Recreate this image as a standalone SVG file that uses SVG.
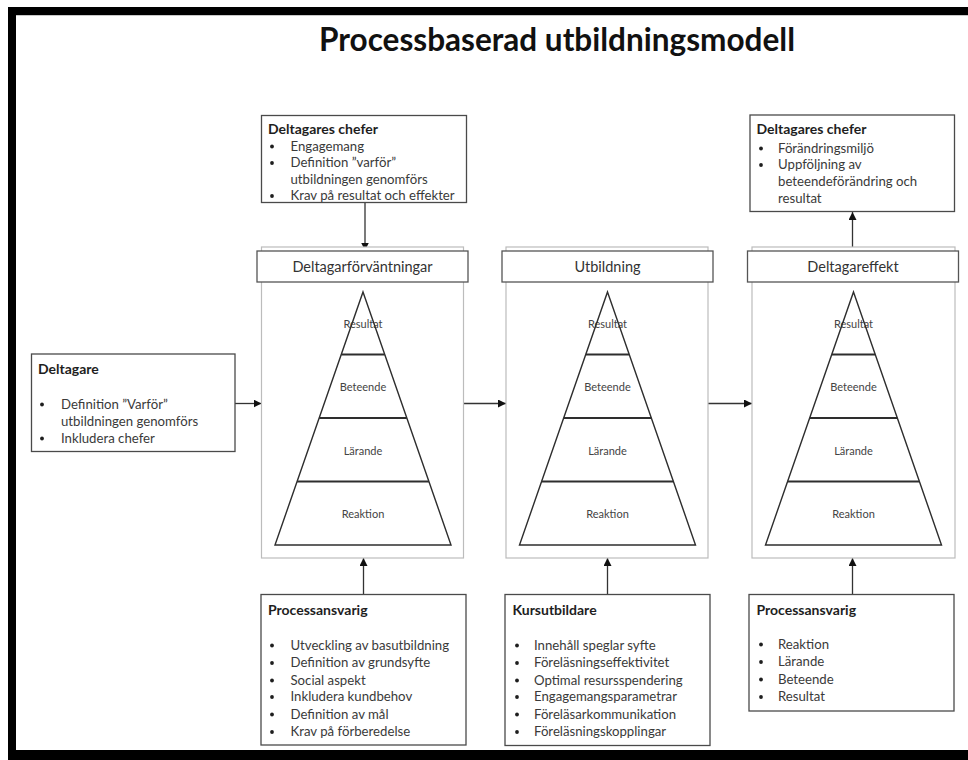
<svg xmlns="http://www.w3.org/2000/svg" width="968" height="760" viewBox="0 0 968 760">
  <defs>
    <style>
      .frame { fill: #000; }
      .box { fill: #fff; stroke: #4a4a4a; stroke-width: 1.3; }
      .stage { fill: #fff; stroke: #bcbcbc; stroke-width: 1.2; }
      .head { fill: #fff; stroke: #555; stroke-width: 1.3; }
      .pyr { fill: none; stroke: #2e2e2e; stroke-width: 1.4; }
      .tier { stroke: #2e2e2e; stroke-width: 1.8; }
      .edge { stroke: #333; stroke-width: 1.3; fill: none; }
      .title { font-family: Lato, "Liberation Sans", sans-serif; font-weight: 700; font-size: 32px; fill: #111; }
      .h { font-family: Lato, "Liberation Sans", sans-serif; font-weight: 700; font-size: 14px; fill: #1e1e1e; }
      .t { font-family: Lato, "Liberation Sans", sans-serif; font-size: 13.2px; fill: #3a3a3a; }
      .hd { font-family: Lato, "Liberation Sans", sans-serif; font-size: 14.5px; fill: #333; text-anchor: middle; }
      .lv { font-family: Lato, "Liberation Sans", sans-serif; font-size: 11px; fill: #444; text-anchor: middle; }
      .dot { fill: #1e1e1e; }
    </style>
    <marker id="arrow" viewBox="0 0 10 10" refX="10" refY="5" markerWidth="8" markerHeight="8" markerUnits="userSpaceOnUse" orient="auto">
      <path d="M0,0 L10,5 L0,10 z" fill="#111"/>
    </marker>
    <!-- four-tier pyramid, apex at (0,292) -->
    <g id="pyramid">
      <polygon points="0,292 88,545 -88,545" fill="#fff"/>
      <text class="lv" x="0" y="328">Resultat</text>
      <text class="lv" x="0" y="391">Beteende</text>
      <text class="lv" x="0" y="454.5">Lärande</text>
      <text class="lv" x="0" y="518">Reaktion</text>
      <line class="tier" x1="-21.7" y1="354.5" x2="21.7" y2="354.5"/>
      <line class="tier" x1="-43.8" y1="418" x2="43.8" y2="418"/>
      <line class="tier" x1="-65.9" y1="481.5" x2="65.9" y2="481.5"/>
      <polygon class="pyr" points="0,292 88,545 -88,545"/>
    </g>
  </defs>

  <rect width="968" height="760" fill="#fff"/>

  <!-- page frame -->
  <rect class="frame" x="8" y="7" width="960" height="8"/>
  <rect x="16" y="15" width="952" height="1" fill="#c8c8c8"/>
  <rect class="frame" x="8" y="7" width="8" height="753"/>
  <rect class="frame" x="8" y="750" width="960" height="10"/>

  <text class="title" x="557" y="51" text-anchor="middle" textLength="476" lengthAdjust="spacingAndGlyphs">Processbaserad utbildningsmodell</text>

  <!-- connectors -->
  <g id="connectors">
    <line class="edge" x1="365" y1="202.5" x2="365" y2="250.5" marker-end="url(#arrow)"/>
    <line class="edge" x1="852.5" y1="250.5" x2="852.5" y2="212" marker-end="url(#arrow)"/>
    <line class="edge" x1="235" y1="403.5" x2="261.5" y2="403.5" marker-end="url(#arrow)"/>
    <line class="edge" x1="463.5" y1="403.5" x2="506" y2="403.5" marker-end="url(#arrow)"/>
    <line class="edge" x1="708" y1="403.5" x2="752" y2="403.5" marker-end="url(#arrow)"/>
    <line class="edge" x1="363.5" y1="594.5" x2="363.5" y2="558" marker-end="url(#arrow)"/>
    <line class="edge" x1="607.5" y1="594.5" x2="607.5" y2="558" marker-end="url(#arrow)"/>
    <line class="edge" x1="852.5" y1="594.5" x2="852.5" y2="558" marker-end="url(#arrow)"/>
  </g>

  <!-- stage 1 -->
  <g id="stage-forvantningar">
    <rect class="stage" x="261.5" y="247" width="202" height="311"/>
    <rect class="head" x="257" y="251" width="211" height="31"/>
    <text class="hd" x="362.5" y="271.5">Deltagarförväntningar</text>
    <use href="#pyramid" x="363"/>
  </g>

  <!-- stage 2 -->
  <g id="stage-utbildning">
    <rect class="stage" x="506" y="247" width="202" height="311"/>
    <rect class="head" x="502" y="251" width="211" height="31"/>
    <text class="hd" x="607.5" y="271.5">Utbildning</text>
    <use href="#pyramid" x="607.5"/>
  </g>

  <!-- stage 3 -->
  <g id="stage-effekt">
    <rect class="stage" x="752" y="247" width="203" height="311"/>
    <rect class="head" x="747.5" y="251" width="211" height="31"/>
    <text class="hd" x="853" y="271.5">Deltagareffekt</text>
    <use href="#pyramid" x="853.5"/>
  </g>

  <!-- managers, before -->
  <g id="chefer-fore">
    <rect class="box" x="261.5" y="115.5" width="205" height="87"/>
    <text class="h" x="268" y="133.5">Deltagares chefer</text>
    <circle class="dot" cx="272" cy="146.5" r="1.9"/>
    <circle class="dot" cx="272" cy="163" r="1.9"/>
    <circle class="dot" cx="272" cy="196" r="1.9"/>
    <text class="t" x="290.5" y="150.5">Engagemang</text>
    <text class="t" x="290.5" y="167">Definition ”varför”</text>
    <text class="t" x="290.5" y="183.5">utbildningen genomförs</text>
    <text class="t" x="290.5" y="200">Krav på resultat och effekter</text>
  </g>

  <!-- managers, after -->
  <g id="chefer-efter">
    <rect class="box" x="750" y="115" width="204.5" height="96.5"/>
    <text class="h" x="756.5" y="134">Deltagares chefer</text>
    <circle class="dot" cx="761" cy="148.5" r="1.9"/>
    <circle class="dot" cx="761" cy="165" r="1.9"/>
    <text class="t" x="778" y="152.5">Förändringsmiljö</text>
    <text class="t" x="778" y="169">Uppföljning av</text>
    <text class="t" x="778" y="186">beteendeförändring och</text>
    <text class="t" x="778" y="203">resultat</text>
  </g>

  <!-- participants -->
  <g id="deltagare">
    <rect class="box" x="31.5" y="354" width="203.5" height="97.5"/>
    <text class="h" x="38" y="374">Deltagare</text>
    <circle class="dot" cx="42" cy="404.5" r="1.9"/>
    <circle class="dot" cx="42" cy="438.5" r="1.9"/>
    <text class="t" x="61" y="408.5">Definition ”Varför”</text>
    <text class="t" x="61" y="426">utbildningen genomförs</text>
    <text class="t" x="61" y="442.5">Inkludera chefer</text>
  </g>

  <!-- process owner, before -->
  <g id="processansvarig-fore">
    <rect class="box" x="261" y="594.5" width="205" height="150.5"/>
    <text class="h" x="268" y="615">Processansvarig</text>
    <g class="dot">
      <circle cx="272" cy="645.5" r="1.9"/>
      <circle cx="272" cy="663" r="1.9"/>
      <circle cx="272" cy="680.5" r="1.9"/>
      <circle cx="272" cy="697" r="1.9"/>
      <circle cx="272" cy="714.5" r="1.9"/>
      <circle cx="272" cy="732" r="1.9"/>
    </g>
    <text class="t" x="290.5" y="649.5">Utveckling av basutbildning</text>
    <text class="t" x="290.5" y="667">Definition av grundsyfte</text>
    <text class="t" x="290.5" y="684.5">Social aspekt</text>
    <text class="t" x="290.5" y="701">Inkludera kundbehov</text>
    <text class="t" x="290.5" y="718.5">Definition av mål</text>
    <text class="t" x="290.5" y="736">Krav på förberedelse</text>
  </g>

  <!-- course trainer -->
  <g id="kursutbildare">
    <rect class="box" x="505" y="594.5" width="205" height="151"/>
    <text class="h" x="512.5" y="615">Kursutbildare</text>
    <g class="dot">
      <circle cx="517" cy="645.5" r="1.9"/>
      <circle cx="517" cy="663" r="1.9"/>
      <circle cx="517" cy="680.5" r="1.9"/>
      <circle cx="517" cy="697" r="1.9"/>
      <circle cx="517" cy="714.5" r="1.9"/>
      <circle cx="517" cy="732" r="1.9"/>
    </g>
    <text class="t" x="534" y="649.5">Innehåll speglar syfte</text>
    <text class="t" x="534" y="667">Föreläsningseffektivitet</text>
    <text class="t" x="534" y="684.5">Optimal resursspendering</text>
    <text class="t" x="534" y="701">Engagemangsparametrar</text>
    <text class="t" x="534" y="718.5">Föreläsarkommunikation</text>
    <text class="t" x="534" y="736">Föreläsningskopplingar</text>
  </g>

  <!-- process owner, after -->
  <g id="processansvarig-efter">
    <rect class="box" x="749" y="594.5" width="205" height="116.5"/>
    <text class="h" x="756.5" y="615">Processansvarig</text>
    <g class="dot">
      <circle cx="761" cy="644.5" r="1.9"/>
      <circle cx="761" cy="662" r="1.9"/>
      <circle cx="761" cy="679.5" r="1.9"/>
      <circle cx="761" cy="697" r="1.9"/>
    </g>
    <text class="t" x="778" y="648.5">Reaktion</text>
    <text class="t" x="778" y="666">Lärande</text>
    <text class="t" x="778" y="683.5">Beteende</text>
    <text class="t" x="778" y="701">Resultat</text>
  </g>
</svg>
